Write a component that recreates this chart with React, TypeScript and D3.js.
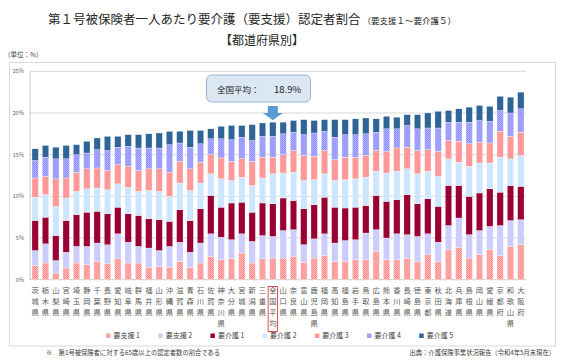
import React from 'react';
import * as d3 from 'd3';

const prefectures = [
  '茨城県', '栃木県', '山梨県', '宮崎県', '埼玉県', '静岡県', '千葉県', '長野県', '愛知県', '岐阜県',
  '群馬県', '福井県', '山形県', '沖縄県', '滋賀県', '青森県', '石川県', '佐賀県', '神奈川県', '大分県',
  '宮城県', '新潟県', '三重県', '全国平均', '山口県', '奈良県', '富山県', '鹿児島県', '福岡県', '高知県',
  '福島県', '岩手県', '鳥取県', '広島県', '熊本県', '香川県', '長崎県', '徳島県', '東京都', '秋田県',
  '北海道', '兵庫県', '島根県', '岡山県', '愛媛県', '京都府', '和歌山県', '大阪府',
];

// 単位：%
const shien1 = [1.7, 2.0, 0.8, 1.4, 2.0, 1.8, 2.2, 1.9, 2.5, 2.0, 2.0, 1.5, 1.6, 1.5, 2.2, 1.5, 2.0, 2.8, 2.4, 2.5, 3.2, 2.0, 2.5, 2.6, 2.6, 2.8, 2.1, 2.6, 2.9, 2.2, 2.2, 2.4, 2.4, 3.4, 2.4, 2.4, 2.5, 2.2, 3.0, 2.2, 3.6, 3.9, 2.6, 3.0, 3.6, 2.9, 4.0, 4.2];
const shien2 = [1.8, 2.3, 1.5, 1.9, 2.0, 2.2, 2.2, 2.3, 3.0, 2.5, 2.0, 2.3, 1.9, 2.5, 2.3, 1.8, 2.4, 2.7, 2.7, 2.3, 2.3, 2.6, 2.8, 2.6, 3.3, 3.2, 2.1, 2.3, 2.6, 2.2, 2.5, 2.4, 3.2, 2.6, 2.6, 3.1, 2.9, 3.0, 2.5, 2.3, 2.9, 3.5, 2.8, 2.9, 2.8, 3.6, 3.1, 3.0];
const kaigo1 = [3.6, 3.2, 3.0, 3.8, 3.8, 4.1, 3.8, 3.7, 3.2, 3.4, 3.7, 3.5, 3.7, 3.0, 3.9, 3.8, 4.1, 4.6, 3.6, 4.4, 3.8, 3.5, 3.9, 3.9, 3.9, 3.5, 4.3, 4.1, 4.4, 4.3, 3.9, 3.9, 3.3, 4.1, 4.4, 4.1, 4.8, 3.9, 4.2, 4.3, 4.8, 3.9, 4.6, 4.5, 4.5, 4.0, 4.2, 4.0];
const kaigo2 = [2.8, 2.7, 3.5, 2.7, 2.8, 2.8, 2.8, 2.9, 2.8, 3.2, 2.9, 3.4, 3.4, 3.0, 3.2, 3.6, 3.1, 2.6, 3.4, 2.7, 3.0, 3.2, 3.0, 3.6, 3.0, 3.4, 3.4, 3.0, 2.8, 3.2, 3.4, 3.4, 3.4, 2.9, 3.4, 3.4, 3.1, 3.6, 3.3, 3.6, 3.2, 2.8, 3.6, 3.6, 3.1, 4.2, 3.2, 3.7];
const kaigo3 = [2.3, 2.2, 3.3, 2.4, 2.3, 2.4, 2.4, 2.3, 2.3, 2.5, 2.5, 2.6, 2.7, 2.9, 2.6, 2.6, 2.5, 2.3, 2.5, 2.3, 2.2, 2.9, 2.5, 2.0, 2.2, 2.6, 3.0, 2.8, 2.8, 2.5, 2.7, 2.6, 2.6, 2.5, 2.6, 2.8, 2.6, 2.8, 2.6, 3.0, 2.2, 2.5, 2.7, 2.5, 2.4, 3.1, 2.7, 2.8];
const kaigo4 = [2.1, 2.3, 2.4, 2.3, 2.1, 1.9, 2.2, 2.4, 2.1, 2.4, 2.7, 2.5, 2.5, 3.3, 2.2, 2.6, 2.2, 1.9, 2.3, 2.6, 2.6, 2.5, 2.5, 2.5, 2.5, 2.2, 2.5, 2.8, 2.3, 2.7, 2.7, 2.7, 2.6, 2.2, 2.7, 2.3, 2.6, 2.6, 2.6, 2.8, 2.2, 2.3, 2.6, 2.6, 2.6, 2.5, 2.8, 2.8];
const kaigo5 = [1.4, 1.4, 1.4, 1.6, 1.2, 1.4, 1.4, 1.7, 1.3, 1.4, 1.6, 1.7, 1.8, 1.6, 1.4, 2.0, 1.6, 1.2, 1.5, 1.7, 1.4, 1.9, 1.6, 1.7, 1.4, 1.4, 1.8, 1.5, 1.4, 2.1, 1.8, 1.9, 1.9, 1.6, 1.5, 1.4, 1.3, 1.7, 1.8, 2.0, 1.4, 1.6, 1.8, 1.8, 1.8, 1.7, 1.9, 2.0];

const seriesNames = ['要支援 1', '要支援 2', '要介護 1', '要介護 2', '要介護 3', '要介護 4', '要介護 5'];
const seriesValues = [shien1, shien2, kaigo1, kaigo2, kaigo3, kaigo4, kaigo5];
const yTicks = [0, 5, 10, 15, 20, 25];
const nationalLabel = '全国平均';
const nationalValue = 18.9;

const colors = ['#ffa3a3', '#ccccff', '#990033', '#cce6ff', '#ff9999', '#a0a0ff', '#2e6496'];
const fills = ['url(#pat-s1)', colors[1], colors[2], colors[3], colors[4], 'url(#pat-k4)', colors[6]];

const W = 567;
const H = 362;
const plot = { left: 30, right: 526, top: 71.3, bottom: 279.7 };
const font = '"Noto Sans CJK JP", "Noto Sans", sans-serif';

const App: React.FC = () => {
  const rows = prefectures.map((name, i) => {
    const r: Record<string, any> = { name };
    seriesNames.forEach((s, k) => { r[s] = seriesValues[k][i]; });
    return r;
  });
  const stacked = d3.stack<Record<string, any>>().keys(seriesNames)(rows);

  const x = d3.scaleBand().domain(prefectures).range([plot.left, plot.right]).paddingInner(0.38).paddingOuter(0.19);
  const y = d3.scaleLinear().domain([0, 25]).range([plot.bottom, plot.top]);

  const natX = (x(nationalLabel) || 0) + x.bandwidth() / 2;
  const natTop = y(nationalValue);

  return (
    <div style={{ position: 'absolute', left: 0, top: 0 }}>
      <svg width={W} height={H} style={{ display: 'block', background: '#fff', fontFamily: font }}>
        <defs>
          <pattern id="pat-s1" width="2" height="2" patternUnits="userSpaceOnUse">
            <rect width="2" height="2" fill="#ffb3b3" />
            <rect width="1" height="1" fill="#ff8f8f" />
            <rect x="1" y="1" width="1" height="1" fill="#ff8f8f" />
          </pattern>
          <pattern id="pat-k4" width="2" height="2" patternUnits="userSpaceOnUse">
            <rect width="2" height="2" fill="#adadff" />
            <rect width="1" height="1" fill="#9292ff" />
            <rect x="1" y="1" width="1" height="1" fill="#9292ff" />
          </pattern>
        </defs>

        {/* title */}
        <text x={48} y={24} fill="#262626">
          <tspan fontSize={12.5}>第１号被保険者一人あたり要介護（要支援）認定者割合</tspan>
          <tspan fontSize={8.5} dx={2}>（要支援１～要介護５）</tspan>
        </text>
        <text x={262} y={45} textAnchor="middle" fontSize={12} fill="#262626">【都道府県別】</text>
        <text x={4} y={57} fontSize={6.5} fill="#404040">（単位：%）</text>

        {/* frame */}
        <rect x={9.5} y={62.5} width={546} height={283.5} fill="none" stroke="#d9d9d9" />

        {/* grid */}
        {yTicks.map(t => (
          <g key={t}>
            <line x1={plot.left} x2={plot.right} y1={y(t)} y2={y(t)} stroke={t === 0 ? '#bfbfbf' : '#d9d9d9'} strokeWidth={t === 0 ? 0.8 : 1} />
            <text x={24} y={y(t) + 2} textAnchor="end" fontSize={5.5} fill="#595959">{t}%</text>
          </g>
        ))}
        <line x1={plot.left} x2={plot.left} y1={plot.top} y2={plot.bottom} stroke="#bfbfbf" strokeWidth={0.8} />

        {/* bars */}
        {stacked.map((layer, k) => (
          <g key={layer.key}>
            {layer.map((d, i) => (
              <rect
                key={i}
                x={x(prefectures[i])}
                y={y(d[1])}
                width={x.bandwidth()}
                height={y(d[0]) - y(d[1])}
                fill={fills[k]}
                stroke="#ffffff"
                strokeWidth={0.3}
              />
            ))}
          </g>
        ))}

        {/* category labels */}
        {prefectures.map(p => {
          const cx = (x(p) || 0) + x.bandwidth() / 2;
          return (
            <g key={p}>
              {Array.from(p).map((ch, j) => (
                <text key={j} x={cx} y={293 + j * 11.1} textAnchor="middle" fontSize={7.3} fill="#595959">{ch}</text>
              ))}
              {p === nationalLabel && (
                <rect x={cx - 4.7} y={286.5} width={9.4} height={45} fill="none" stroke="#e03c3c" strokeWidth={0.9} />
              )}
            </g>
          );
        })}

        {/* callout */}
        <rect x={206.5} y={75} width={104} height={27} rx={5} fill="#dbe7f3" stroke="#8aa6c8" strokeWidth={0.8} />
        <text x={217} y={92.5} fontSize={8.5} fill="#1a1a1a">全国平均：</text>
        <text x={274} y={92.5} fontSize={9.5} fill="#1a1a1a">{nationalValue}%</text>
        <path
          d={`M${natX - 5},106 L${natX + 5},106 L${natX + 5},113 L${natX + 10},113 L${natX},${natTop - 2} L${natX - 10},113 L${natX - 5},113 Z`}
          fill="#5b9bd5"
        />

        {/* legend */}
        {seriesNames.map((s, k) => {
          const lx = 106 + k * 52.2;
          return (
            <g key={s}>
              <rect x={lx} y={333.5} width={4.5} height={4.5} fill={colors[k]} />
              <text x={lx + 7.5} y={338.3} fontSize={7} fill="#404040">{s}</text>
            </g>
          );
        })}

        {/* notes */}
        <text x={46} y={355} fontSize={6.3} fill="#404040">※　第1号被保険者に対する65歳以上の認定者数の割合である</text>
        <text x={555} y={355} textAnchor="end" fontSize={6.3} fill="#404040">出典：介護保険事業状況報告（令和4年5月末現在）</text>
      </svg>
    </div>
  );
};

export default App;
